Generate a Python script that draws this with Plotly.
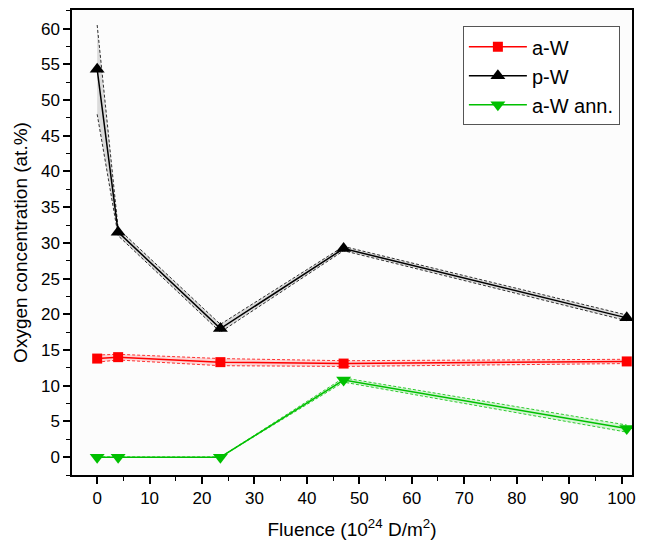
import plotly.graph_objects as go

fluence = [0, 4, 23.5, 47, 101]
aW = [13.8, 14.0, 13.3, 13.1, 13.4]
aW_lo = [13.3, 13.6, 12.8, 12.7, 13.1]
aW_hi = [14.3, 14.4, 13.8, 13.5, 13.7]
pW = [54.3, 31.5, 18.0, 29.2, 19.5]
pW_lo = [48.0, 31.0, 17.5, 28.9, 19.1]
pW_hi = [60.5, 32.0, 18.6, 29.5, 19.9]
aWann = [0.0, 0.0, 0.0, 10.8, 4.0]
aWann_lo = [0.0, 0.0, 0.0, 10.5, 3.5]
aWann_hi = [0.0, 0.0, 0.0, 11.1, 4.5]

series = [
    ("a-W", aW, aW_lo, aW_hi, "#FF0000", "rgba(255,0,0,0.15)", "square", 10),
    ("p-W", pW, pW_lo, pW_hi, "#000000", "rgba(0,0,0,0.13)", "triangle-up", 13),
    ("a-W ann.", aWann, aWann_lo, aWann_hi, "#00C000", "rgba(0,192,0,0.15)", "triangle-down", 13),
]

fig = go.Figure()
for name, y, lo, hi, col, fillc, sym, ms in series:
    fig.add_trace(go.Scatter(x=fluence, y=hi, mode="lines", line=dict(color=col, width=0.8, dash="3px,2px"),
                             showlegend=False, hoverinfo="skip"))
    fig.add_trace(go.Scatter(x=fluence, y=lo, mode="lines", line=dict(color=col, width=0.8, dash="3px,2px"),
                             fill="tonexty", fillcolor=fillc, showlegend=False, hoverinfo="skip"))
    fig.add_trace(go.Scatter(x=fluence, y=y, mode="lines+markers", name=name,
                             line=dict(color=col, width=1.5),
                             marker=dict(symbol=sym, size=ms, color=col)))

axis_common = dict(showline=True, linecolor="black", linewidth=1.5, mirror=True, ticks="outside",
                   ticklen=7, tickwidth=1.5, tickcolor="black", showgrid=False, zeroline=False,
                   tickfont=dict(family="Liberation Sans, Arial", size=17, color="black"))

fig.update_xaxes(range=[-4.8, 102], tickvals=list(range(0, 101, 10)),
                 minor=dict(ticks="outside", ticklen=4, tickwidth=1, tickcolor="black", dtick=5, tick0=0),
                 title=dict(text="Fluence (10<sup>24</sup> D/m<sup>2</sup>)", standoff=16,
                            font=dict(family="Liberation Sans, Arial", size=19, color="black")),
                 **axis_common)
fig.update_yaxes(range=[-2.5, 62.6], tickvals=list(range(0, 61, 5)),
                 minor=dict(ticks="outside", ticklen=4, tickwidth=1, tickcolor="black", dtick=2.5, tick0=0),
                 title=dict(text="Oxygen concentration (at.%)", standoff=8,
                            font=dict(family="Liberation Sans, Arial", size=19, color="black")),
                 **axis_common)

fig.update_layout(
    width=646, height=545,
    margin=dict(l=72, r=14, t=8, b=70),
    paper_bgcolor="white", plot_bgcolor="#fcfcfc",
    legend=dict(x=0.698, y=0.965, xanchor="left", yanchor="top", bgcolor="white",
                bordercolor="#555555", borderwidth=1, itemwidth=58, traceorder="normal",
                font=dict(family="Liberation Sans, Arial", size=20, color="black"),
                tracegroupgap=0),
)

fig.write_html("out.html", config={"displayModeBar": False},
               post_script="document.body.style.margin='0';document.body.style.overflow='hidden';")
